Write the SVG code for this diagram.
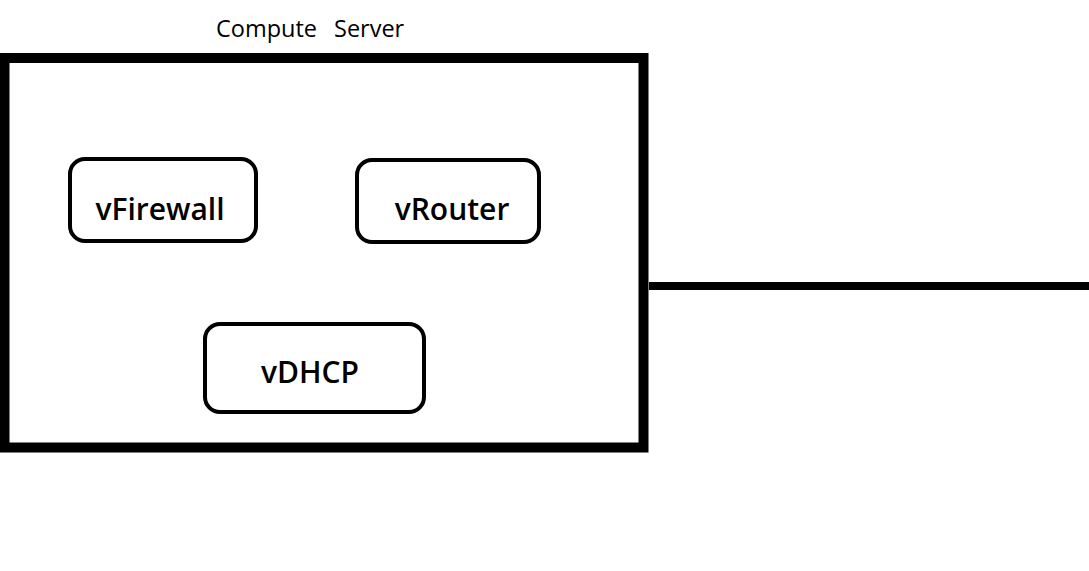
<svg xmlns="http://www.w3.org/2000/svg" width="1089" height="571" viewBox="0 0 1089 571">
<style>
.node{fill:#fff;stroke:#000;stroke-width:4}
.lbl{font-family:"Open Sans","Noto Sans","Liberation Sans",sans-serif;font-weight:600;font-size:30px;fill:#000}
.title{font-family:"Open Sans","Noto Sans","Liberation Sans",sans-serif;font-size:23.5px;font-weight:500;fill:#000}
</style>
<rect width="1089" height="571" fill="#fff"/>
<g id="connectors">
<line x1="649" y1="286" x2="1089" y2="286" stroke="#000" stroke-width="8"/>
</g>
<g id="compute-server">
<rect x="4.5" y="58" width="639" height="389.5" fill="#fff" stroke="#000" stroke-width="10"/>
<text class="title" y="37"><tspan x="216">Compute </tspan><tspan x="334">Server</tspan></text>
</g>
<g id="vFirewall">
<rect class="node" x="70" y="159" width="186" height="82" rx="15"/>
<text class="lbl" x="160" y="220" text-anchor="middle">vFirewall</text>
</g>
<g id="vRouter">
<rect class="node" x="357" y="160" width="182" height="82" rx="15"/>
<text class="lbl" x="452" y="220" text-anchor="middle">vRouter</text>
</g>
<g id="vDHCP">
<rect class="node" x="205" y="324" width="219" height="88" rx="15"/>
<text class="lbl" x="310" y="383" text-anchor="middle">vDHCP</text>
</g>
</svg>
